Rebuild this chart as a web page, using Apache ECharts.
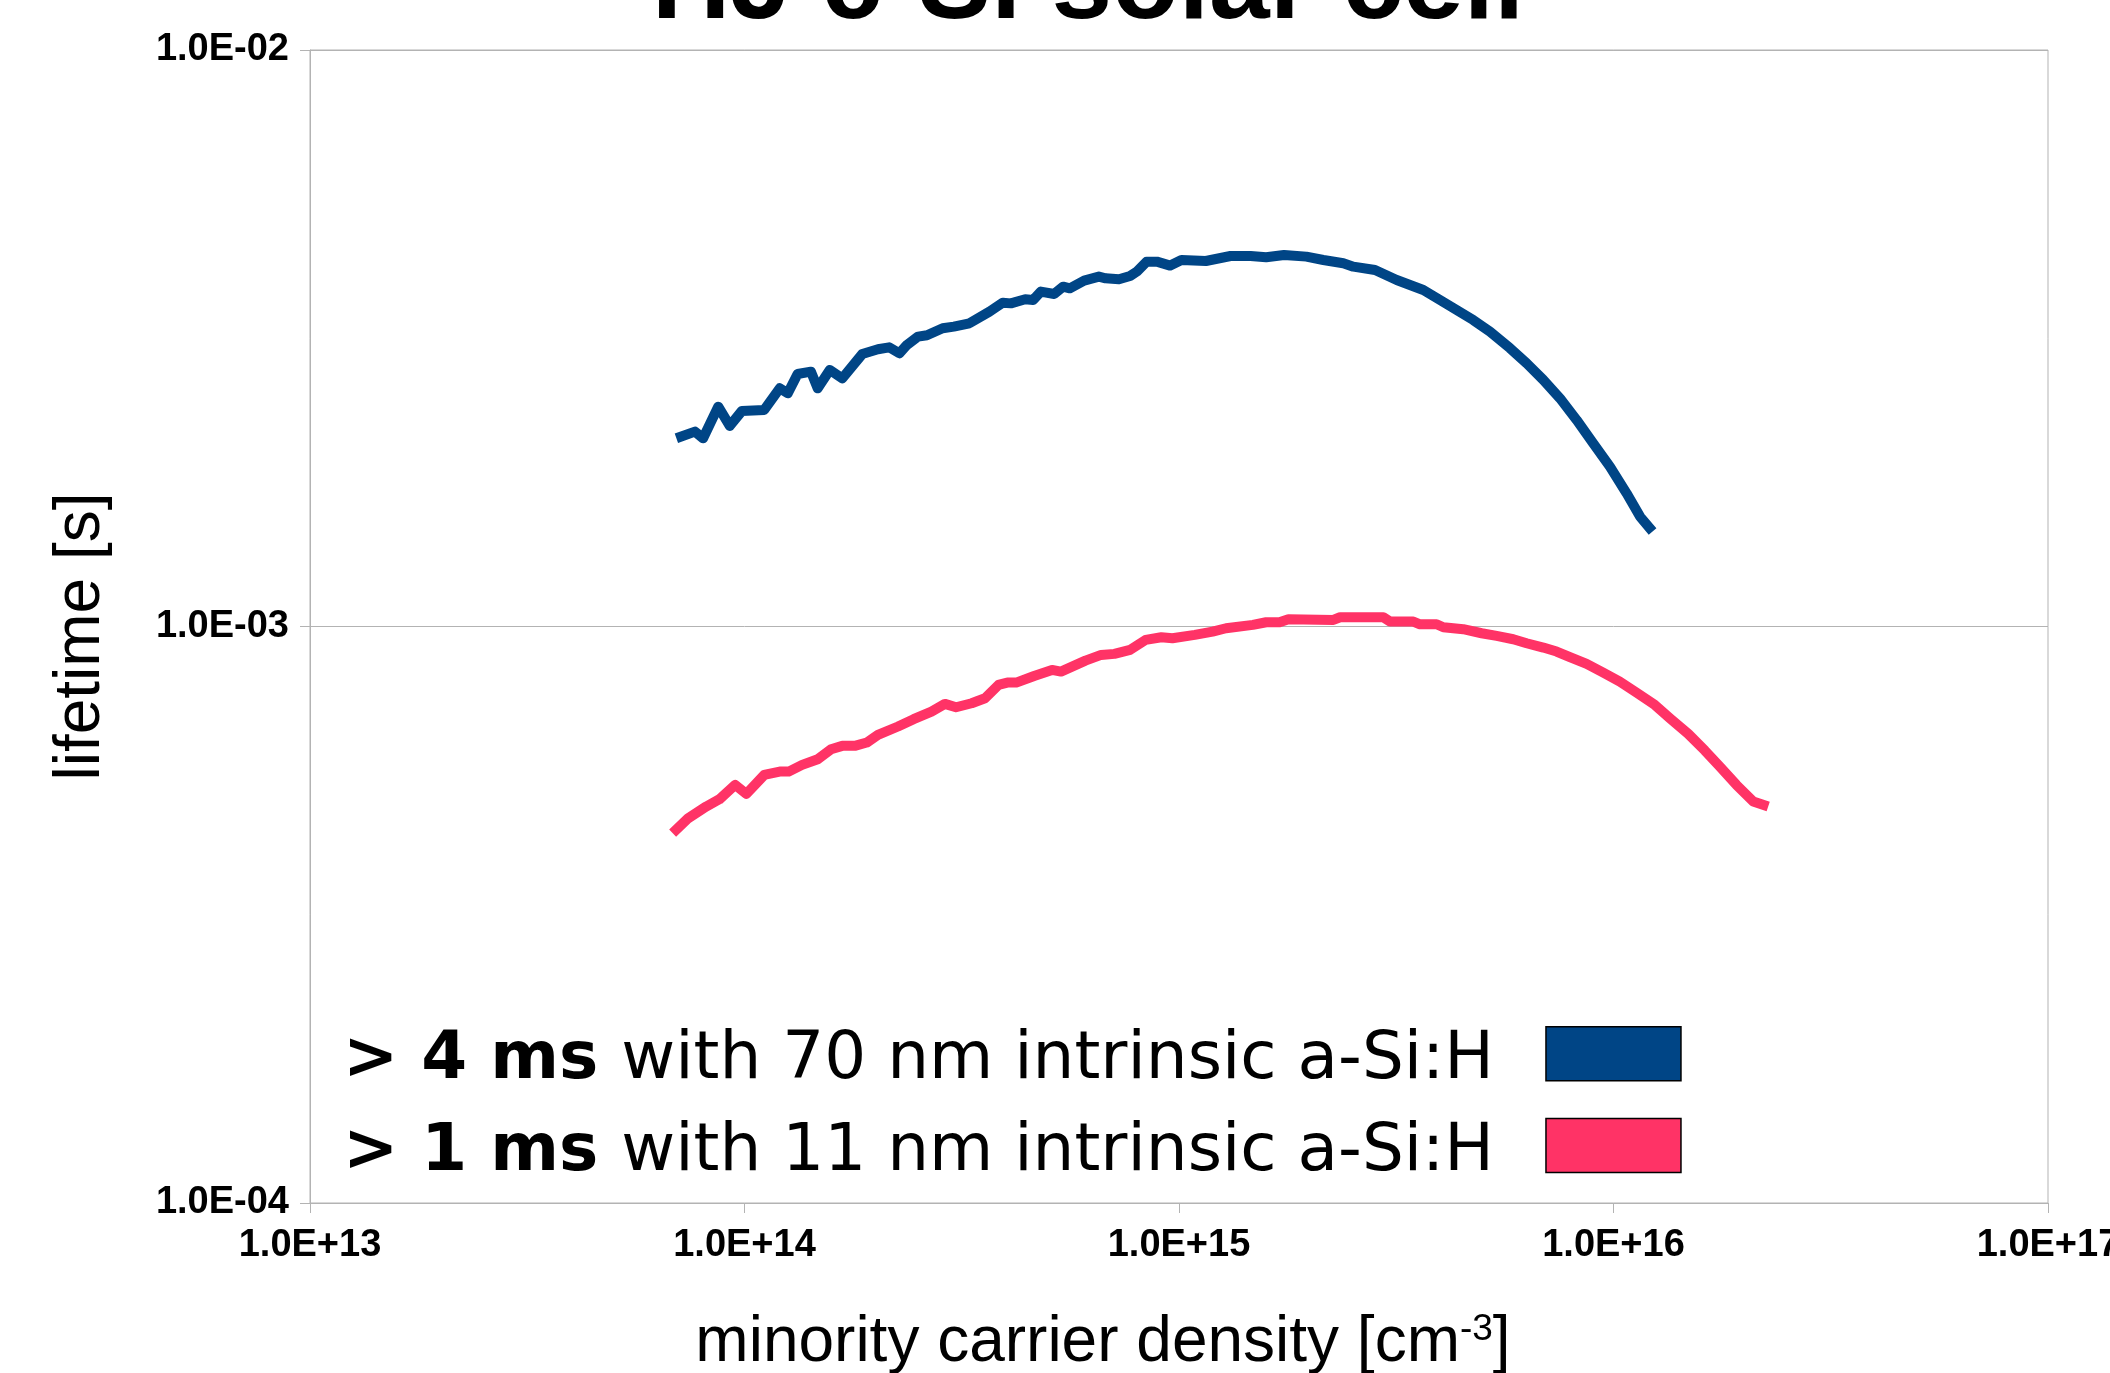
<!DOCTYPE html>
<html>
<head>
<meta charset="utf-8">
<script src="https://cdn.jsdelivr.net/npm/echarts@6/dist/echarts.min.js"></script>
<style>
html,body{margin:0;padding:0;background:#fff;}
#chart{width:2110px;height:1373px;}
</style>
</head>
<body>
<div id="chart"></div>
<script>
const chartTitle = 'HJ c-Si solar cell';
const xAxisTitle = 'minority carrier density [cm{sup|-3}]';
const yAxisTitle = 'lifetime [s]';
const xTickLabels = ['1.0E+13', '1.0E+14', '1.0E+15', '1.0E+16', '1.0E+17'];
const yTickLabels = ['1.0E-04', '1.0E-03', '1.0E-02'];
const seriesNames = ['> 4 ms with 70 nm intrinsic a-Si:H', '> 1 ms with 11 nm intrinsic a-Si:H'];
const seriesBold = ['> 4 ms', '> 1 ms'];
const seriesRest = ['with 70 nm intrinsic a-Si:H', 'with 11 nm intrinsic a-Si:H'];

const blueDensity = [6.97e13, 7.69e13, 8.03e13, 8.70e13, 9.25e13, 9.86e13, 1.11e14, 1.205e14, 1.258e14, 1.325e14,
  1.422e14, 1.474e14, 1.571e14, 1.679e14, 1.867e14, 2.028e14, 2.152e14, 2.272e14, 2.365e14, 2.509e14,
  2.63e14, 2.858e14, 3.032e14, 3.293e14, 3.663e14, 3.931e14, 4.103e14, 4.426e14, 4.619e14, 4.808e14,
  5.162e14, 5.412e14, 5.607e14, 6.048e14, 6.54e14, 6.776e14, 7.274e14, 7.716e14, 7.994e14, 8.421e14,
  8.892e14, 9.544e14, 1.013e15, 1.153e15, 1.314e15, 1.461e15, 1.587e15, 1.745e15, 1.964e15,
  2.149e15, 2.389e15, 2.519e15, 2.826e15, 3.17e15, 3.65e15, 3.988e15, 4.355e15, 4.756e15, 5.196e15,
  5.778e15, 6.31e15, 6.893e15, 7.53e15, 8.224e15, 8.982e15, 9.812e15, 1.072e16, 1.151e16, 1.23e16];
const blueLifetime = [2.121e-3, 2.178e-3, 2.121e-3, 2.406e-3, 2.228e-3, 2.365e-3, 2.375e-3, 2.589e-3, 2.538e-3, 2.742e-3,
  2.767e-3, 2.589e-3, 2.786e-3, 2.694e-3, 2.970e-3, 3.026e-3, 3.050e-3, 2.978e-3, 3.079e-3, 3.183e-3,
  3.200e-3, 3.291e-3, 3.313e-3, 3.357e-3, 3.517e-3, 3.645e-3, 3.635e-3, 3.695e-3, 3.685e-3, 3.810e-3,
  3.774e-3, 3.886e-3, 3.860e-3, 3.980e-3, 4.045e-3, 4.018e-3, 4.002e-3, 4.055e-3, 4.126e-3, 4.294e-3,
  4.294e-3, 4.227e-3, 4.323e-3, 4.305e-3, 4.392e-3, 4.392e-3, 4.369e-3, 4.410e-3, 4.381e-3,
  4.323e-3, 4.266e-3, 4.209e-3, 4.153e-3, 3.991e-3, 3.834e-3, 3.685e-3, 3.540e-3, 3.401e-3, 3.247e-3,
  3.039e-3, 2.861e-3, 2.678e-3, 2.488e-3, 2.282e-3, 2.078e-3, 1.894e-3, 1.702e-3, 1.551e-3, 1.461e-3];

const pinkDensity = [6.833e13, 7.422e13, 8.162e13, 8.76e13, 9.515e13, 1.01e14, 1.11e14, 1.205e14, 1.264e14, 1.357e14,
  1.474e14, 1.582e14, 1.679e14, 1.794e14, 1.912e14, 2.028e14, 2.256e14, 2.45e14, 2.693e14, 2.892e14,
  3.068e14, 3.333e14, 3.577e14, 3.841e14, 4.026e14, 4.221e14, 4.64e14, 5.102e14, 5.349e14, 6.091e14,
  6.617e14, 7.101e14, 7.716e14, 8.381e14, 9.105e14, 9.658e14, 1.087e15, 1.195e15, 1.283e15, 1.479e15,
  1.587e15, 1.703e15, 1.786e15, 2.266e15, 2.348e15, 2.953e15, 3.059e15, 3.462e15, 3.586e15, 3.917e15,
  4.058e15, 4.51e15, 4.972e15, 5.383e15, 5.879e15, 6.31e15, 6.893e15, 7.396e15, 7.938e15, 8.673e15,
  9.472e15, 1.034e16, 1.13e16, 1.245e16, 1.348e16, 1.486e16, 1.623e16, 1.757e16, 1.919e16, 2.097e16, 2.27e16];
const pinkLifetime = [4.380e-4, 4.650e-4, 4.872e-4, 5.017e-4, 5.312e-4, 5.125e-4, 5.527e-4, 5.601e-4, 5.601e-4, 5.754e-4,
  5.885e-4, 6.126e-4, 6.208e-4, 6.208e-4, 6.291e-4, 6.487e-4, 6.707e-4, 6.906e-4, 7.120e-4, 7.341e-4,
  7.244e-4, 7.360e-4, 7.509e-4, 7.918e-4, 7.993e-4, 7.993e-4, 8.208e-4, 8.408e-4, 8.352e-4, 8.727e-4,
  8.928e-4, 8.964e-4, 9.108e-4, 9.480e-4, 9.580e-4, 9.543e-4, 9.671e-4, 9.799e-4, 9.931e-4, 1.0064e-3,
  1.0171e-3, 1.0171e-3, 1.0294e-3, 1.0268e-3, 1.0377e-3, 1.0377e-3, 1.020e-3, 1.020e-3, 1.009e-3, 1.009e-3,
  9.972e-4, 9.892e-4, 9.734e-4, 9.631e-4, 9.504e-4, 9.354e-4, 9.193e-4, 9.047e-4, 8.845e-4, 8.613e-4,
  8.319e-4, 8.026e-4, 7.681e-4, 7.311e-4, 6.933e-4, 6.513e-4, 6.093e-4, 5.715e-4, 5.311e-4, 4.970e-4, 4.872e-4];

const seriesColors = ['#004586', '#ff3366'];

function pairs(xs, ys) { return xs.map((x, i) => [x, ys[i]]); }

const chart = echarts.init(document.getElementById('chart'), null, { renderer: 'canvas' });
const gridColor = '#b3b3b3';
const option = {
  backgroundColor: '#ffffff',
  animation: false,
  title: {
    text: chartTitle,
    left: 1088,
    textAlign: 'center',
    top: -67,
    padding: 0,
    textStyle: { fontFamily: 'Liberation Sans', fontWeight: 'bold', fontSize: 109, color: '#000', lineHeight: 109 }
  },
  grid: { left: 310, right: 62, top: 50, bottom: 170, show: true, borderColor: gridColor, borderWidth: 1,
    containLabel: false, outerBoundsMode: 'none' },
  legend: {
    orient: 'vertical', left: 343, top: 1026, padding: 0, itemGap: 24,
    align: 'right', icon: 'rect', itemWidth: 135, itemHeight: 54, selectedMode: false,
    data: seriesNames,
    itemStyle: { borderColor: '#000', borderWidth: 1.5 },
    formatter: function (name) {
      const i = seriesNames.indexOf(name);
      return '{b|' + seriesBold[i] + ' }{r|' + seriesRest[i] + '}';
    },
    textStyle: {
      padding: [14, 47, 0, 0],
      rich: {
        b: { fontFamily: 'DejaVu Sans', fontWeight: 'bold', fontSize: 66, color: '#000', lineHeight: 66 },
        r: { fontFamily: 'DejaVu Sans', fontSize: 66, color: '#000', lineHeight: 66 }
      }
    }
  },
  xAxis: {
    type: 'log', logBase: 10, min: 1e13, max: 1e17,
    name: xAxisTitle, nameLocation: 'middle', nameGap: 108,
    nameTextStyle: {
      fontFamily: 'Liberation Sans', fontSize: 64, color: '#000', padding: [0, 152, 0, 0],
      rich: { sup: { fontFamily: 'Liberation Sans', fontSize: 37, color: '#000', verticalAlign: 'top', padding: [0, 0, 25, 0] } }
    },
    axisLine: { show: true, lineStyle: { color: gridColor, width: 1 } },
    axisTick: { show: true, length: 10, inside: false, lineStyle: { color: gridColor } },
    minorTick: { show: false },
    splitLine: { show: false },
    axisLabel: {
      margin: 24, fontFamily: 'Liberation Sans', fontWeight: 'bold', fontSize: 38, color: '#000',
      showMaxLabel: true, showMinLabel: true,
      formatter: function (v) { const e = Math.round(Math.log10(v)); return xTickLabels[e - 13]; }
    }
  },
  yAxis: {
    type: 'log', logBase: 10, min: 1e-4, max: 1e-2,
    name: yAxisTitle, nameLocation: 'middle', nameGap: 197,
    nameTextStyle: { fontFamily: 'Liberation Sans', fontSize: 64, color: '#000', padding: [0, 20, 0, 0] },
    axisLine: { show: true, lineStyle: { color: gridColor, width: 1 } },
    axisTick: { show: true, length: 10, inside: false, lineStyle: { color: gridColor } },
    splitLine: { show: true, lineStyle: { color: gridColor, width: 1 } },
    axisLabel: {
      margin: 21, fontFamily: 'Liberation Sans', fontWeight: 'bold', fontSize: 38, color: '#000',
      formatter: function (v) { const e = Math.round(Math.log10(v)); return yTickLabels[e + 4]; }
    }
  },
  series: [
    {
      name: seriesNames[0], type: 'line', data: pairs(blueDensity, blueLifetime),
      showSymbol: false, symbol: 'none', color: seriesColors[0],
      itemStyle: { color: seriesColors[0] },
      lineStyle: { color: seriesColors[0], width: 10, join: 'round', cap: 'butt' }
    },
    {
      name: seriesNames[1], type: 'line', data: pairs(pinkDensity, pinkLifetime),
      showSymbol: false, symbol: 'none', color: seriesColors[1],
      itemStyle: { color: seriesColors[1] },
      lineStyle: { color: seriesColors[1], width: 10, join: 'round', cap: 'butt' }
    }
  ]
};
chart.setOption(option);
</script>
</body>
</html>
